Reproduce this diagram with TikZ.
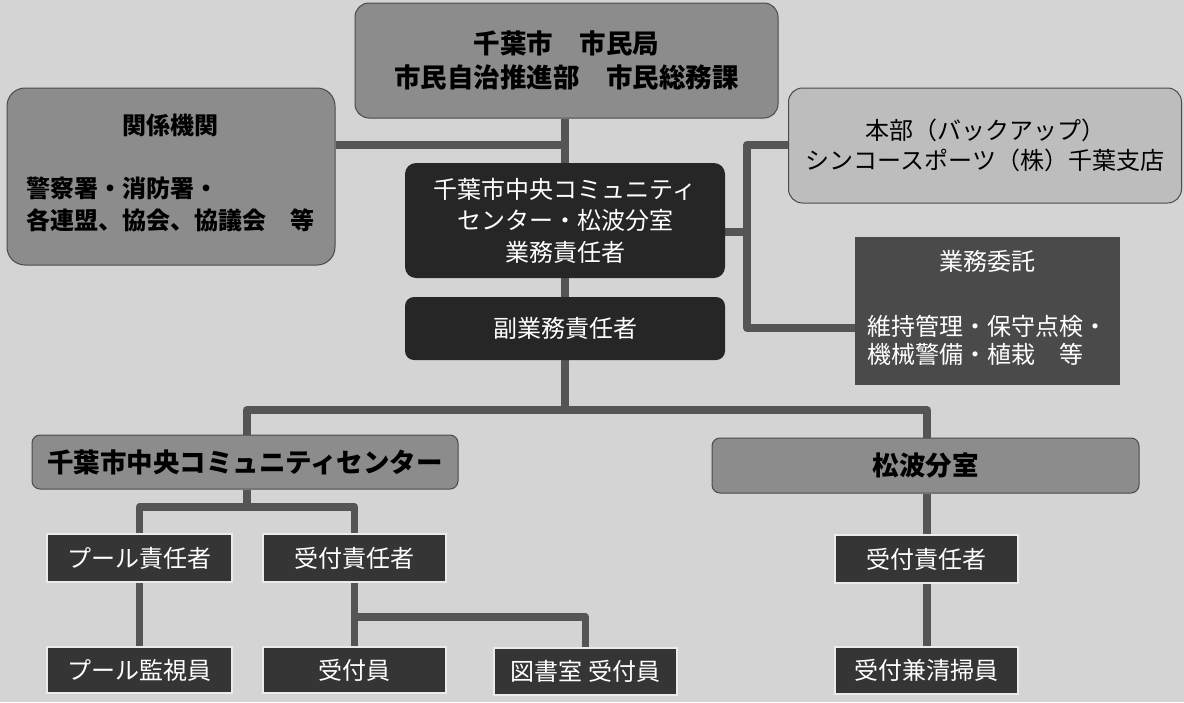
\documentclass[tikz,border=0pt]{standalone}
\usepackage{fontspec}
\newfontfamily\jp{Noto Sans CJK JP}
\definecolor{bgcol}{HTML}{D4D4D4}
\definecolor{midgray}{HTML}{8C8C8C}
\definecolor{lightbox}{HTML}{BDBDBD}
\definecolor{darkbox}{HTML}{262626}
\definecolor{itakubox}{HTML}{4A4A4A}
\definecolor{smallbox}{HTML}{353535}
\definecolor{edgecol}{HTML}{4A4A4A}
\definecolor{linecol}{HTML}{555555}
\pgfdeclarelayer{bglayer}
\pgfdeclarelayer{linelayer}
\pgfsetlayers{bglayer,linelayer,main}
\tikzset{
  boxbase/.style={inner sep=0pt, align=center, font=\jp},
  graybox/.style={boxbase, rounded corners=14pt, fill=midgray, draw=edgecol, line width=1pt, text=black},
  lightgraybox/.style={boxbase, rounded corners=14pt, fill=lightbox, draw=edgecol, line width=1pt, text=black},
  darkrbox/.style={boxbase, rounded corners=11pt, fill=darkbox, text=white},
  itakustyle/.style={boxbase, fill=itakubox, text=white},
  barbox/.style={boxbase, rounded corners=8pt, fill=midgray, draw=edgecol, line width=1pt, text=black},
  rolebox/.style={boxbase, fill=smallbox, draw=white!92!black, line width=1.5pt, text=white,
    font={\jp\fontsize{24}{28}\selectfont}},
  conn/.style={draw=linecol, line width=7.5pt, line join=round}
}
\begin{document}
\begin{tikzpicture}[x=1pt,y=-1pt]
\begin{pgfonlayer}{bglayer}
  \fill[bgcol] (0,0) rectangle (1184,702);
\end{pgfonlayer}
\useasboundingbox (0,0) rectangle (1184,702);

% upper part
\node[graybox, minimum width=423pt, minimum height=115pt, font={\jp\bfseries\fontsize{26.5}{34}\selectfont}]
  (top) at (566.5,60.5) {千葉市　市民局\\市民自治推進部　市民総務課};
\node[graybox, rounded corners=18pt, minimum width=328pt, minimum height=177pt, font={\jp\bfseries\fontsize{24}{32}\selectfont}]
  (kankei) at (171,176.5) {関係機関\\[31pt]\begin{tabular}[t]{@{}l@{}}警察署・消防署・\\各連盟、協会、協議会　等\end{tabular}};
\node[darkrbox, minimum width=320pt, minimum height=115pt, font={\jp\fontsize{24}{31.5}\selectfont}]
  (center) at (565,220.5) {千葉市中央コミュニティ\\センター・松波分室\\業務責任者};
\node[darkrbox, rounded corners=9pt, minimum width=320pt, minimum height=63pt, font={\jp\fontsize{24}{30}\selectfont}]
  (fuku) at (565,328.5) {副業務責任者};
\node[lightgraybox, minimum width=393pt, minimum height=115pt, font={\jp\fontsize{24}{30}\selectfont}]
  (honbu) at (985,145.5) {本部（バックアップ）\\シンコースポーツ（株）千葉支店};
\node[itakustyle, minimum width=265pt, minimum height=148pt, font={\jp\fontsize{24}{28}\selectfont}]
  (itaku) at (987.5,311) {\rule{0pt}{10pt}業務委託\\[37pt]\begin{tabular}[t]{@{}l@{}}維持管理・保守点検・\\機械警備・植栽　等\end{tabular}};

% lower part
\node[barbox, minimum width=426pt, minimum height=54pt, font={\jp\bfseries\fontsize{26.5}{30}\selectfont}]
  (ccc) at (245,462) {千葉市中央コミュニティセンター};
\node[barbox, minimum width=427pt, minimum height=55pt, font={\jp\bfseries\fontsize{26.5}{30}\selectfont}]
  (matsu) at (925.5,465.5) {松波分室};
\node[rolebox, minimum width=185pt, minimum height=48pt] (pool) at (139.5,558) {プール責任者};
\node[rolebox, minimum width=183pt, minimum height=48pt] (uketL) at (354.5,558) {受付責任者};
\node[rolebox, minimum width=185pt, minimum height=46pt] (kanshi) at (139.5,670) {プール監視員};
\node[rolebox, minimum width=183pt, minimum height=46pt] (uketin) at (354.5,670) {受付員};
\node[rolebox, minimum width=183pt, minimum height=47pt] (tosho) at (585.5,671.5) {図書室 受付員};
\node[rolebox, minimum width=183pt, minimum height=48pt] (uketR) at (926.5,559) {受付責任者};
\node[rolebox, minimum width=183pt, minimum height=47pt] (seisou) at (926.5,670.5) {受付兼清掃員};

% junction points
\coordinate (kj) at (565,145);
\coordinate (rv1) at (747,145);
\coordinate (rv2) at (747,232);
\coordinate (rv3) at (747,328);
\coordinate (busL) at (247,410);
\coordinate (busM) at (565,410);
\coordinate (busR) at (927,410);
\coordinate (cj) at (247,507);
\coordinate (tj) at (585.5,617);

\begin{pgfonlayer}{linelayer}
  \draw[conn] (top.south -| busM) -- (center.north -| busM);
  \draw[conn] (center.south -| busM) -- (fuku.north -| busM);
  \draw[conn] (fuku.south -| busM) -- (busM);
  \draw[conn] (kankei.east |- kj) -- (kj);
  \draw[conn] (center.east |- rv2) -- (rv2);
  \draw[conn] (honbu.west |- rv1) -- (rv1) -- (rv3) -- (itaku.west |- rv3);
  \draw[conn] (ccc.north -| busL) -- (busL) -- (busR) -- (matsu.north -| busR);
  \draw[conn] (ccc.south -| cj) -- (cj);
  \draw[conn] (pool.north) -- (pool.north |- cj) -- (uketL.north |- cj) -- (uketL.north);
  \draw[conn] (pool.south) -- (kanshi.north);
  \draw[conn] (uketL.south) -- (uketin.north);
  \draw[conn] (uketL.south |- tj) -- (tj) -- (tosho.north);
  \draw[conn] (matsu.south -| busR) -- (uketR.north -| busR);
  \draw[conn] (uketR.south -| busR) -- (seisou.north -| busR);
\end{pgfonlayer}
\end{tikzpicture}
\end{document}
